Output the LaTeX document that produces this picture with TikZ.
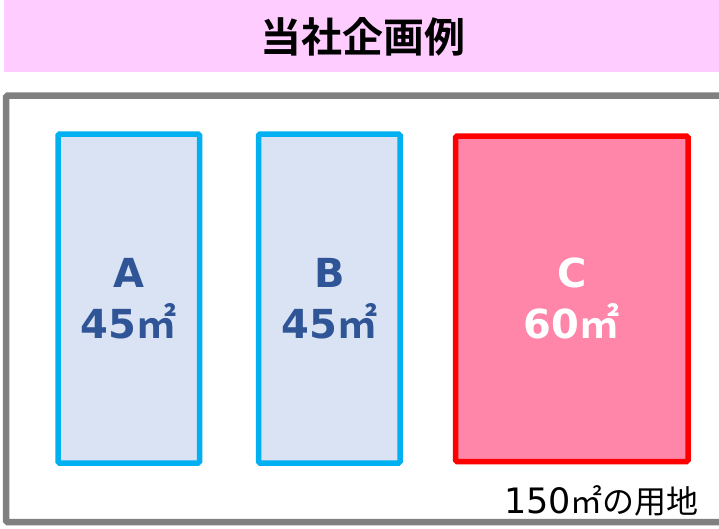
\documentclass[tikz,border=0pt]{standalone}
\usepackage{fontspec}
\setmainfont{DejaVu Sans}
\newfontfamily\cjk[BoldFont={Noto Sans CJK JP Bold}]{Noto Sans CJK JP}
\definecolor{band}{HTML}{FFCCFF}
\definecolor{frame}{HTML}{808080}
\definecolor{cyanb}{HTML}{00B0F0}
\definecolor{bluefill}{HTML}{DAE3F3}
\definecolor{bluetext}{HTML}{2F5597}
\definecolor{pinkfill}{HTML}{FF85A9}
\definecolor{redb}{HTML}{FF0000}
\tikzset{
  lotbox/.style={draw, line width=5.5pt, rounded corners=1.5pt, inner sep=0pt, align=center,
    font=\bfseries\fontsize{40}{51}\selectfont},
  bluebox/.style={lotbox, draw=cyanb, fill=bluefill, text=bluetext},
  redbox/.style={lotbox, draw=redb, fill=pinkfill, text=white},
}
\newcommand{\sqm}{{\cjk\bfseries ㎡}}
\begin{document}
\begin{tikzpicture}[x=1pt,y=-1pt]
\useasboundingbox (0,0) rectangle (719,528);
\clip (0,0) rectangle (719,528);
% title band
\fill[band] (4,0) rectangle (730,72);
\node (title) at (363,37) {\cjk\bfseries\fontsize{41}{41}\selectfont 当社企画例};
% site frame
\draw[frame, line width=6.5pt, rounded corners=1.5pt] (730,95.7) -- (6,95.7) -- (6,522) -- (730,522);
% lots
\node[bluebox, minimum width=141.5pt, minimum height=329pt] (A) at (128.75,298.5) {A\\45\sqm};
\node[bluebox, minimum width=141.5pt, minimum height=329pt] (B) at (329.25,298.5) {B\\45\sqm};
\node[redbox, minimum width=232.5pt, minimum height=325.5pt] (C) at (571.75,298.75) {C\\60\sqm};
% site label
\node[anchor=base east, inner sep=0pt] (site) at (699,513) {\fontsize{35}{35}\selectfont 150{\cjk\fontsize{32}{32}\selectfont ㎡の用地}};
\end{tikzpicture}
\end{document}
